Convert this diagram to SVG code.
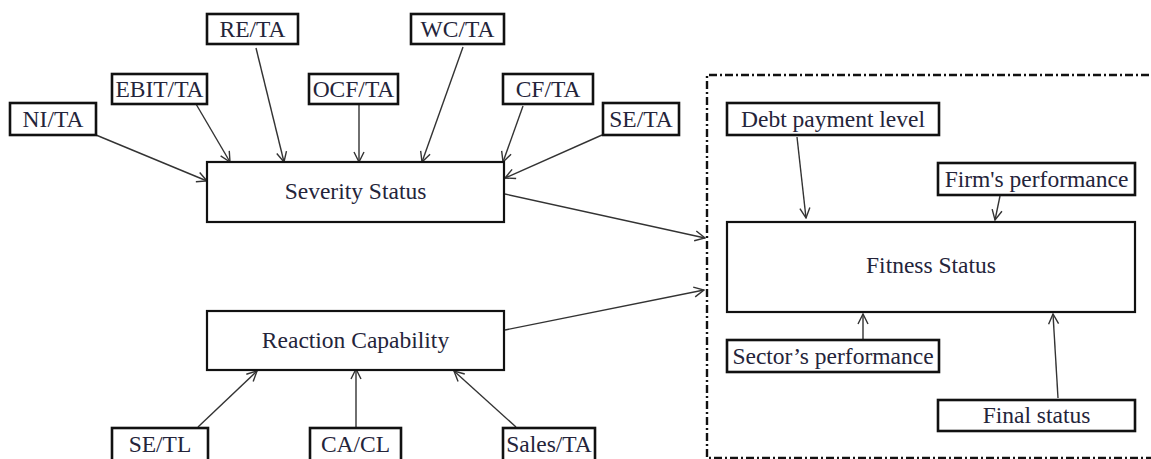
<svg xmlns="http://www.w3.org/2000/svg" width="1151" height="459" viewBox="0 0 1151 459">
<style>
.lbl rect{fill:#fff;stroke:#111;stroke-width:2.6}
.main rect{fill:#fff;stroke:#111;stroke-width:2.2}
text{font-family:"Liberation Serif","Times New Roman",serif;font-size:23.5px;fill:#24243a;text-anchor:middle}
#connectors line{stroke:#333;stroke-width:1.4;marker-end:url(#arr)}
#frame{fill:none;stroke:#111;stroke-width:2.4;stroke-dasharray:8 3 2 3}
</style>
<defs>
<marker id="arr" markerUnits="userSpaceOnUse" markerWidth="12" markerHeight="12" refX="11" refY="6" orient="auto">
<path d="M1,1 L11,6 L1,11" fill="none" stroke="#333" stroke-width="1.4"/>
</marker>
</defs>
<path id="frame" d="M1165,75 H707 V458 H1165"/>
<g id="connectors">
<line x1="96" y1="135" x2="207" y2="181"/>
<line x1="196" y1="104" x2="230" y2="162"/>
<line x1="256" y1="48" x2="284" y2="162"/>
<line x1="359" y1="104" x2="359" y2="162"/>
<line x1="463" y1="47" x2="422" y2="162"/>
<line x1="523" y1="106" x2="503" y2="162"/>
<line x1="602" y1="135" x2="505" y2="178"/>
<line x1="505" y1="194" x2="705" y2="238"/>
<line x1="505" y1="330" x2="704" y2="290"/>
<line x1="198" y1="427" x2="257" y2="371"/>
<line x1="356" y1="427" x2="356" y2="369"/>
<line x1="516" y1="427" x2="454" y2="371"/>
<line x1="797" y1="137" x2="806" y2="218"/>
<line x1="1000" y1="196" x2="995" y2="220"/>
<line x1="863" y1="339" x2="863" y2="314"/>
<line x1="1058" y1="398" x2="1053" y2="314"/>
</g>
<g id="ni" class="lbl"><rect x="10" y="103" width="86" height="32"/><text x="53" y="127">NI/TA</text></g>
<g id="ebit" class="lbl"><rect x="112" y="74" width="95" height="30"/><text x="159.5" y="97">EBIT/TA</text></g>
<g id="re" class="lbl"><rect x="207" y="14" width="91" height="30"/><text x="252.5" y="37">RE/TA</text></g>
<g id="ocf" class="lbl"><rect x="309" y="74" width="89" height="30"/><text x="353.5" y="97">OCF/TA</text></g>
<g id="wc" class="lbl"><rect x="411" y="14" width="93" height="30"/><text x="457.5" y="37">WC/TA</text></g>
<g id="cf" class="lbl"><rect x="503" y="74" width="90" height="30"/><text x="548" y="97">CF/TA</text></g>
<g id="seta" class="lbl"><rect x="603" y="103" width="76" height="32"/><text x="641" y="127">SE/TA</text></g>
<g id="severity" class="main"><rect x="207" y="162" width="297" height="60"/><text x="355.5" y="199">Severity Status</text></g>
<g id="reaction" class="main"><rect x="207" y="311" width="297" height="59"/><text x="355.5" y="348">Reaction Capability</text></g>
<g id="setl" class="lbl"><rect x="112" y="428" width="96" height="34"/><text x="160" y="452">SE/TL</text></g>
<g id="cacl" class="lbl"><rect x="310" y="428" width="91" height="34"/><text x="355.5" y="452">CA/CL</text></g>
<g id="sales" class="lbl"><rect x="503" y="428" width="92" height="34"/><text x="549" y="452">Sales/TA</text></g>
<g id="debt" class="lbl"><rect x="727" y="103" width="212" height="32"/><text x="833" y="127">Debt payment level</text></g>
<g id="firm" class="lbl"><rect x="938" y="163" width="197" height="32"/><text x="1036.5" y="187">Firm's performance</text></g>
<g id="fitness" class="main"><rect x="727" y="222" width="408" height="90"/><text x="931" y="273">Fitness Status</text></g>
<g id="sector" class="lbl"><rect x="727" y="340" width="212" height="32"/><text x="833" y="364">Sector’s performance</text></g>
<g id="final" class="lbl"><rect x="938" y="400" width="197" height="31"/><text x="1036.5" y="423">Final status</text></g>
</svg>
